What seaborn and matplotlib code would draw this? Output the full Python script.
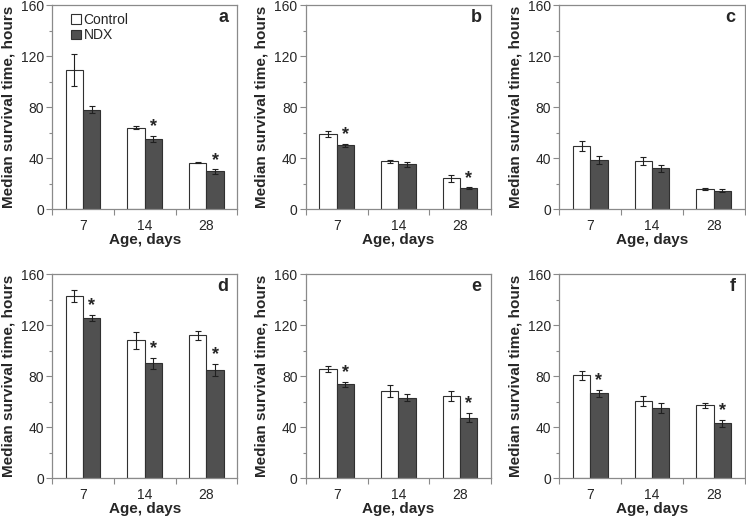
import numpy as np
import pandas as pd
import matplotlib
matplotlib.use("Agg")
import matplotlib.pyplot as plt
import seaborn as sns

ages = ["7", "14", "28"]
groups = ["Control", "NDX"]
panels = ["a", "b", "c", "d", "e", "f"]

# median survival time (hours), Control then NDX per panel
control = {
    "a": [109, 64, 36.5],
    "b": [59, 37.5, 24],
    "c": [49.5, 37.5, 16],
    "d": [143, 108, 112],
    "e": [85.5, 68.5, 64.5],
    "f": [80.5, 60.5, 57],
}
ndx = {
    "a": [78, 55, 29.5],
    "b": [50, 35, 16.5],
    "c": [38.5, 32, 14.5],
    "d": [125.5, 90, 85],
    "e": [73.5, 63, 47.5],
    "f": [66.5, 55, 43],
}
control_err = {
    "a": [12.5, 1.5, 0.5],
    "b": [2.5, 1.3, 2.4],
    "c": [3.8, 3.2, 0.8],
    "d": [4.5, 6.5, 3.3],
    "e": [2.1, 4.6, 3.8],
    "f": [3.3, 4, 2.1],
}
ndx_err = {
    "a": [3, 2.5, 1.7],
    "b": [1, 2, 0.5],
    "c": [3.5, 2.7, 1.5],
    "d": [2.6, 4.5, 4.6],
    "e": [2.1, 2.6, 3.5],
    "f": [2.5, 4.2, 2.9],
}
# significance stars on NDX bars
stars = {
    "a": [False, True, True],
    "b": [True, False, True],
    "c": [False, False, False],
    "d": [True, True, True],
    "e": [True, False, True],
    "f": [True, False, True],
}

sns.set_style("white")
plt.rcParams["font.family"] = ["Liberation Sans", "DejaVu Sans"]

fig, axes = plt.subplots(2, 3, figsize=(7.46, 5.23), dpi=100)
plt.subplots_adjust(left=0.07, right=0.998, top=0.990, bottom=0.086,
                    wspace=0.37, hspace=0.32)

edge = "#303030"
frame = "#8a8a8a"

for ax, p in zip(axes.flat, panels):
    df = pd.DataFrame({
        "age": ages * 2,
        "group": ["Control"] * 3 + ["NDX"] * 3,
        "hours": control[p] + ndx[p],
    })
    sns.barplot(data=df, x="age", y="hours", hue="group", order=ages,
                hue_order=groups, palette={"Control": "white", "NDX": "#505050"},
                edgecolor=edge, linewidth=0.8, width=0.56, errorbar=None,
                legend=(p == "a"), ax=ax)

    bar_sets = list(ax.containers)
    errs = [control_err[p], ndx_err[p]]
    for k, cont in enumerate(bar_sets):
        xs = [b.get_x() + b.get_width() / 2 for b in cont]
        hs = [b.get_height() for b in cont]
        ax.errorbar(xs, hs, yerr=errs[k], fmt="none", ecolor="#202020",
                    elinewidth=0.8, capsize=2.2, capthick=0.8)
        if k == 1:
            for x, h, e, s in zip(xs, hs, errs[k], stars[p]):
                if s:
                    ax.text(x, h + e + 0.5, "*", ha="center", va="bottom",
                            fontsize=13, fontweight="bold")

    ax.set_xlim(-0.5, 2.5)
    ax.set_ylim(0, 160)
    ax.set_yticks([0, 40, 80, 120, 160])
    ax.set_yticks([20, 60, 100, 140], minor=True)
    ax.set_xticks([-0.5, 0.5, 1.5, 2.5], minor=True)
    ax.tick_params(axis="x", which="major", length=0, pad=7, labelsize=10)
    ax.tick_params(axis="x", which="minor", length=4, width=0.8, color=frame,
                   direction="out", bottom=True)
    ax.tick_params(axis="y", which="major", length=4, width=0.8, color=frame,
                   direction="out", left=True, labelsize=10, pad=2)
    ax.tick_params(axis="y", which="minor", length=2.5, width=0.8, color=frame,
                   direction="out", left=True)
    for sp in ax.spines.values():
        sp.set_visible(True)
        sp.set_color(frame)
        sp.set_linewidth(0.9)

    ax.set_xlabel("Age, days", fontsize=11, fontweight="bold", labelpad=0)
    ax.set_ylabel("Median survival time, hours", fontsize=11,
                  fontweight="bold", labelpad=4)
    ax.text(0.95, 0.94, p, transform=ax.transAxes, ha="right", va="center",
            fontsize=13, fontweight="bold")

    if p == "a":
        ax.legend(loc="upper left", bbox_to_anchor=(0.06, 1.0), frameon=False,
                  handlelength=0.7, handleheight=0.7, handletextpad=0.2,
                  labelspacing=0.1, fontsize=10, borderaxespad=0.15)

fig.savefig("out.png", dpi=100)
